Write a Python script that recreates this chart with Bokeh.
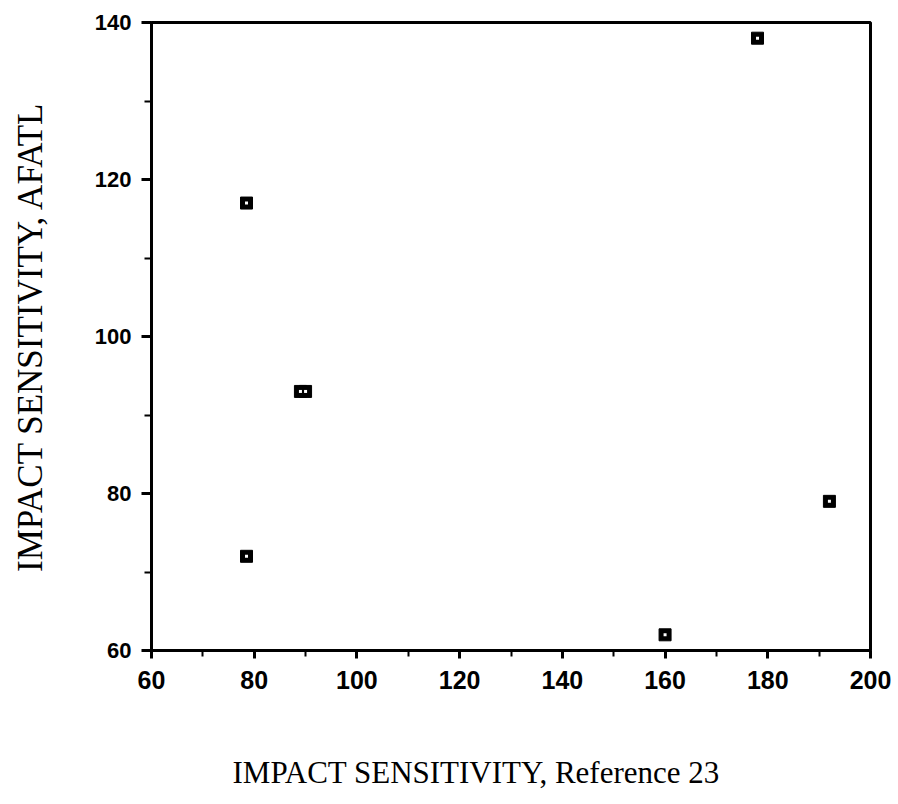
from bokeh.plotting import figure
from bokeh.models import Range1d, SingleIntervalTicker, Title
from bokeh.embed import file_html
from bokeh.resources import INLINE

# Data
ref23 = [78.5, 89, 90, 78.5, 160, 178, 192]
afatl = [117, 93, 93, 72, 62, 138, 79]

x_label = "IMPACT SENSITIVITY, Reference 23"
y_label = "IMPACT SENSITIVITY, AFATL"

p = figure(width=898, height=804, output_backend="svg", toolbar_location=None,
           x_range=Range1d(60, 200), y_range=Range1d(60, 140),
           min_border_left=151, min_border_right=28,
           min_border_top=22, min_border_bottom=154)

p.xgrid.visible = False
p.ygrid.visible = False
p.outline_line_color = "black"
p.outline_line_width = 3
p.outline_line_alpha = 1.0

for ax in (p.xaxis[0], p.yaxis[0]):
    ax.ticker = SingleIntervalTicker(interval=20, num_minor_ticks=2)
    ax.axis_line_width = 3
    ax.axis_line_color = "black"
    ax.major_tick_line_width = 3
    ax.minor_tick_line_width = 2
    ax.major_tick_in = 0
    ax.minor_tick_in = 0
    ax.major_label_text_font = "Liberation Sans"
    ax.major_label_text_font_style = "bold"
    ax.major_label_text_color = "black"

p.xaxis[0].major_label_text_font_size = "25px"
p.xaxis[0].major_tick_out = 8
p.xaxis[0].minor_tick_out = 6
p.xaxis[0].major_label_standoff = 12
p.yaxis[0].major_label_text_font_size = "22px"
p.yaxis[0].major_tick_out = 10
p.yaxis[0].minor_tick_out = 7
p.yaxis[0].major_label_standoff = 10

p.yaxis[0].axis_label = y_label
p.yaxis[0].axis_label_text_font = "Liberation Serif"
p.yaxis[0].axis_label_text_font_style = "normal"
p.yaxis[0].axis_label_text_font_size = "35px"
p.yaxis[0].axis_label_text_color = "black"
p.yaxis[0].axis_label_standoff = 42

# spacer panel between the x tick labels and the x-axis title
spacer = Title(text=" ", text_font_size="10px", standoff=50)
p.add_layout(spacer, "below")

xt = Title(text=x_label, align="left", offset=81, vertical_align="top",
           standoff=0, text_font="Liberation Serif", text_font_style="normal",
           text_font_size="31px", text_color="black")
p.add_layout(xt, "below")

p.scatter(ref23, afatl, marker="square", size=12, fill_color="black",
          line_color="black")
p.scatter(ref23, afatl, marker="square", size=3, fill_color="white",
          line_color=None)

open("out.html", "w").write(file_html(p, INLINE))
